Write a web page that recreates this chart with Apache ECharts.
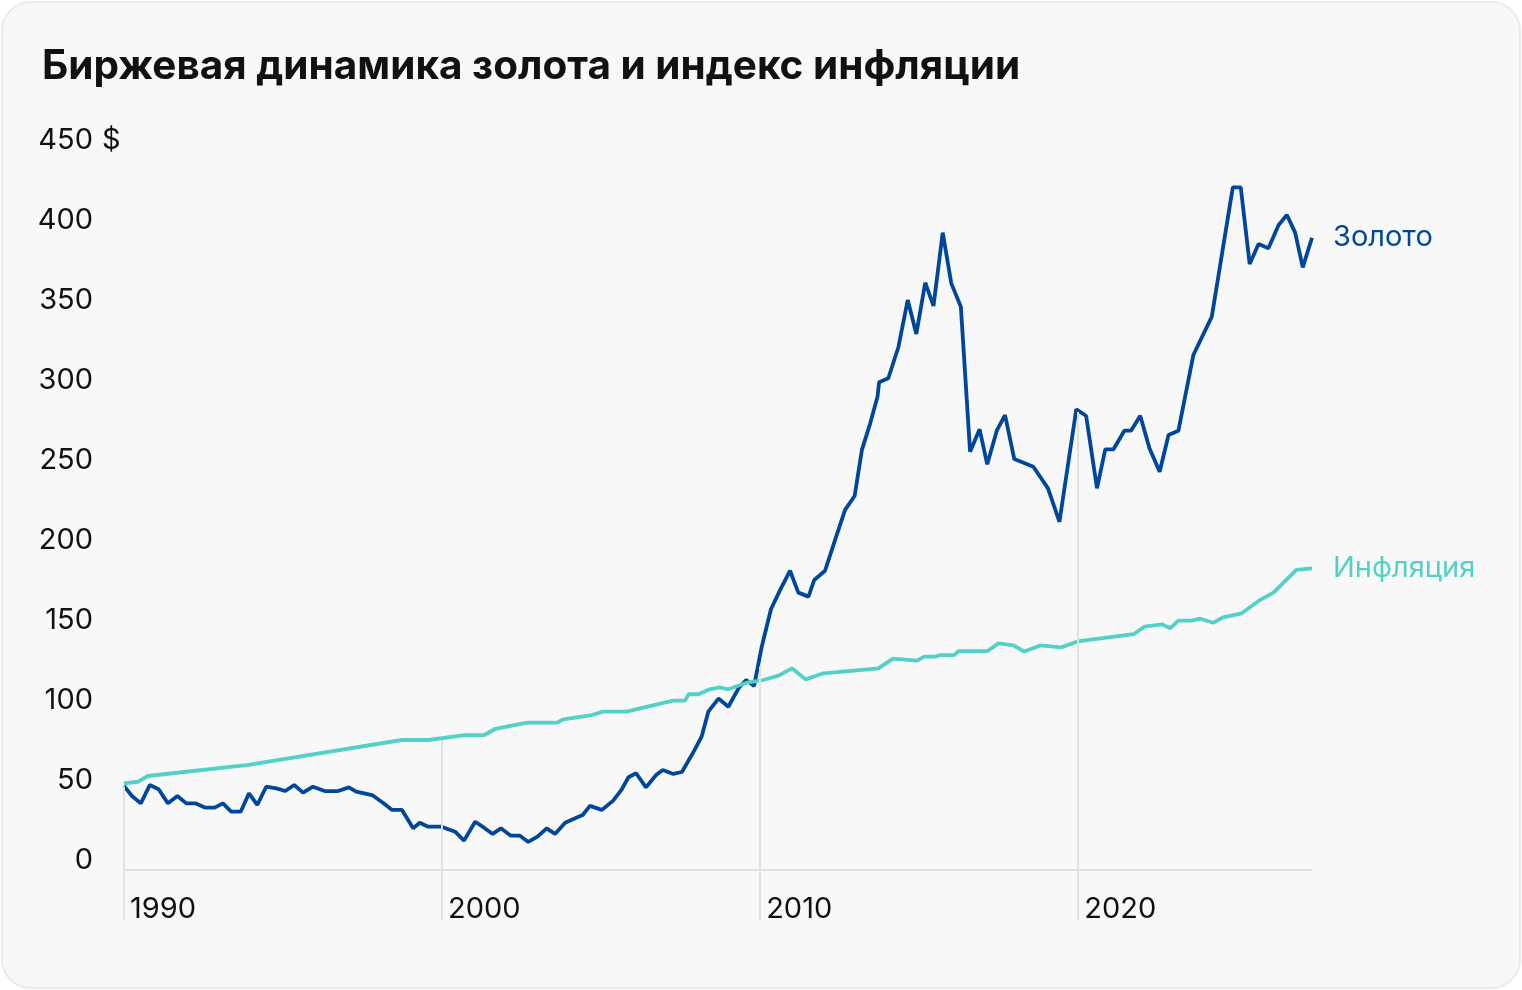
<!DOCTYPE html>
<html>
<head>
<meta charset="utf-8">
<script src="https://cdn.jsdelivr.net/npm/echarts@6/dist/echarts.min.js"></script>
<style>
  body { margin: 0; background: #fff; }
  .card {
    position: absolute; left: 1px; top: 1px; width: 1516px; height: 984px;
    background: #f8f8f8; border: 2px solid #ebebeb; border-radius: 30px;
  }
  #chart { position: absolute; left: 0; top: 0; width: 1522px; height: 990px; }
</style>
</head>
<body>
<div class="card"></div>
<div id="chart"></div>
<script>
  // gold (quarterly-ish), year as decimal
  var goldYears = [1990.00, 1990.25, 1990.53, 1990.81, 1991.09, 1991.38, 1991.68, 1991.96, 1992.24, 1992.56,
    1992.85, 1993.11, 1993.37, 1993.67, 1993.93, 1994.19, 1994.47, 1994.79, 1995.07, 1995.35,
    1995.63, 1995.94, 1996.31, 1996.73, 1997.07, 1997.30, 1997.80, 1998.14, 1998.43, 1998.74,
    1999.09, 1999.30, 1999.56, 1999.98, 2000.41, 2000.69, 2001.04, 2001.32, 2001.59, 2001.85,
    2002.16, 2002.45, 2002.71, 2003.00, 2003.29, 2003.55, 2003.87, 2004.13, 2004.42, 2004.65,
    2005.02, 2005.38, 2005.65, 2005.86, 2006.10, 2006.41, 2006.73, 2006.94, 2007.27, 2007.54,
    2007.85, 2008.16, 2008.37, 2008.69, 2009.00, 2009.32, 2009.56, 2009.81, 2010.05, 2010.34,
    2010.63, 2010.94, 2011.20, 2011.52, 2011.70, 2012.04, 2012.39, 2012.67, 2012.97, 2013.20,
    2013.46, 2013.69, 2013.74, 2014.03, 2014.35, 2014.64, 2014.91, 2015.19, 2015.45, 2015.74,
    2016.01, 2016.31, 2016.60, 2016.90, 2017.14, 2017.44, 2017.70, 2017.99, 2018.59, 2019.05,
    2019.41, 2019.94, 2020.25, 2020.59, 2020.85, 2021.11, 2021.45, 2021.66, 2021.95, 2022.24,
    2022.56, 2022.84, 2023.15, 2023.62, 2024.20, 2024.86, 2025.11, 2025.39, 2025.67, 2025.98,
    2026.30, 2026.56, 2026.82, 2027.06, 2027.35];
  var goldValues = [46.3, 40.0, 35.4, 46.9, 44.2, 35.4, 40.0, 35.4, 35.4, 32.7,
    32.7, 35.4, 30.2, 30.2, 41.7, 34.4, 45.8, 44.8, 43.1, 46.9,
    42.1, 45.8, 43.1, 43.1, 45.4, 42.7, 40.6, 35.8, 31.3, 31.3,
    19.8, 23.3, 20.8, 20.8, 17.7, 12.1, 23.9, 20.2, 16.3, 19.8,
    15.2, 15.2, 11.3, 14.6, 19.8, 16.3, 23.3, 25.6, 28.1, 33.8,
    31.3, 37.1, 44.2, 51.7, 54.2, 45.4, 53.1, 56.3, 53.8, 55.0,
    65.6, 77.1, 92.7, 100.9, 95.8, 107.3, 112.5, 108.8, 133.3, 156.7,
    168.8, 180.8, 167.1, 164.6, 175.0, 180.8, 202.1, 218.8, 227.5, 256.3,
    272.9, 289.6, 298.6, 301.1, 320.8, 350.0, 328.8, 360.8, 346.3, 392.1,
    360.4, 345.8, 255.2, 269.2, 247.3, 268.3, 278.1, 250.6, 245.8, 232.3,
    211.4, 281.7, 277.5, 232.3, 256.7, 256.7, 268.3, 268.3, 277.7, 257.3,
    242.7, 265.6, 268.3, 315.6, 339.6, 420.4, 420.4, 372.5, 385.0, 382.3,
    396.9, 403.1, 392.1, 370.4, 388.9];

  var inflYears = [1990.00, 1990.44, 1990.75, 1993.91, 1998.73, 1999.57, 2000.71, 2001.32, 2001.67, 2002.68,
    2003.61, 2003.81, 2004.71, 2005.05, 2005.79, 2007.27, 2007.64, 2007.75, 2008.06, 2008.41,
    2008.72, 2009.00, 2009.58, 2010.10, 2010.58, 2011.00, 2011.43, 2011.99, 2013.72, 2014.17,
    2014.93, 2015.16, 2015.50, 2015.66, 2016.10, 2016.24, 2017.15, 2017.49, 2017.96, 2018.30,
    2018.81, 2019.46, 2019.98, 2021.74, 2022.08, 2022.63, 2022.89, 2023.15, 2023.57, 2023.84,
    2024.25, 2024.55, 2025.14, 2025.67, 2026.14, 2026.86, 2027.35];
  var inflValues = [47.9, 48.9, 52.5, 59.4, 75.0, 75.0, 78.1, 78.1, 81.9, 85.8,
    85.8, 87.9, 90.6, 92.7, 92.7, 99.6, 99.6, 103.6, 103.6, 106.7,
    107.9, 106.7, 110.8, 112.5, 115.2, 119.8, 112.9, 116.7, 119.8, 125.9,
    124.6, 127.1, 127.1, 128.1, 128.1, 130.6, 130.6, 135.4, 134.2, 130.3,
    134.1, 132.9, 136.6, 141.1, 145.8, 147.3, 144.8, 149.6, 149.6, 150.8,
    148.3, 151.7, 154.2, 161.9, 167.1, 181.3, 182.3];

  var yTicks = [0, 50, 100, 150, 200, 250, 300, 350, 400, 450];
  var unitTick = [450];                // the "$" sits next to the top label
  var xTicks = [1990, 2000, 2010, 2020];
  var dropTops = [46, 75, 121, 280];   // where the grey year lines start
  var axisFloor = -37.5;               // bottom of the year lines
  var baseLine = -6.25;                // horizontal base line

  function zip(a, b) {
    return a.map(function (v, i) { return [v, b[i]]; });
  }

  var font = 'Inter';
  var gridColor = '#e0e0e0';
  var dropLines = xTicks.map(function (x, i) {
    return [{ coord: [x, dropTops[i]] }, { coord: [x, axisFloor] }];
  });
  dropLines.push([{ coord: [xTicks[0], baseLine] }, { coord: [goldYears[goldYears.length - 1], baseLine] }]);

  var myChart = echarts.init(document.getElementById('chart'));
  var option = {
    backgroundColor: 'transparent',
    animation: false,
    textStyle: { fontFamily: font },
    title: {
      text: 'Биржевая динамика золота и индекс инфляции',
      left: 37,
      top: 41,
      textStyle: { fontFamily: font, fontWeight: 'bold', fontSize: 40.5, color: '#111' }
    },
    grid: { left: 124, right: 210, top: 140, bottom: 70 },
    xAxis: {
      type: 'value',
      min: 1990,
      max: 2027.35,
      interval: 10,
      axisLine: { show: false },
      axisTick: { show: false },
      splitLine: { show: false },
      axisLabel: {
        showMaxLabel: false,
        align: 'left',
        verticalAlign: 'bottom',
        margin: 4,
        padding: [0, 0, 0, 6],
        fontFamily: font,
        fontSize: 29,
        color: '#111',
        formatter: function (v) { return String(v); }
      }
    },
    yAxis: [
      {
        type: 'value',
        min: axisFloor,
        max: 450,
        axisLine: { show: false },
        axisTick: { show: false },
        splitLine: { show: false },
        axisLabel: {
          customValues: yTicks,
          margin: 31,
          fontFamily: font,
          fontSize: 29,
          color: '#111'
        }
      },
      {
        type: 'value',
        position: 'left',
        min: axisFloor,
        max: 450,
        axisLine: { show: false },
        axisTick: { show: false },
        splitLine: { show: false },
        axisLabel: {
          customValues: unitTick,
          align: 'left',
          margin: 22,
          fontFamily: font,
          fontSize: 29,
          color: '#111',
          formatter: function () { return '$'; }
        }
      }
    ],
    series: [
      {
        name: 'grid',
        type: 'line',
        data: [],
        z: 1,
        silent: true,
        markLine: {
          silent: true,
          symbol: 'none',
          label: { show: false },
          lineStyle: { color: gridColor, width: 2, type: 'solid' },
          data: dropLines
        }
      },
      {
        name: 'Золото',
        type: 'line',
        z: 3,
        data: zip(goldYears, goldValues),
        showSymbol: false,
        lineStyle: { color: '#00479b', width: 3.8 },
        itemStyle: { color: '#00479b' },
        endLabel: {
          show: true,
          formatter: 'Золото',
          distance: 21,
          fontFamily: font,
          fontSize: 29,
          color: '#00479b'
        }
      },
      {
        name: 'Инфляция',
        type: 'line',
        z: 4,
        data: zip(inflYears, inflValues),
        showSymbol: false,
        lineStyle: { color: '#52d1c5', width: 3.8 },
        itemStyle: { color: '#52d1c5' },
        endLabel: {
          show: true,
          formatter: 'Инфляция',
          distance: 21,
          fontFamily: font,
          fontSize: 29,
          color: '#52d1c5'
        }
      }
    ]
  };
  option && myChart.setOption(option);
</script>
</body>
</html>
